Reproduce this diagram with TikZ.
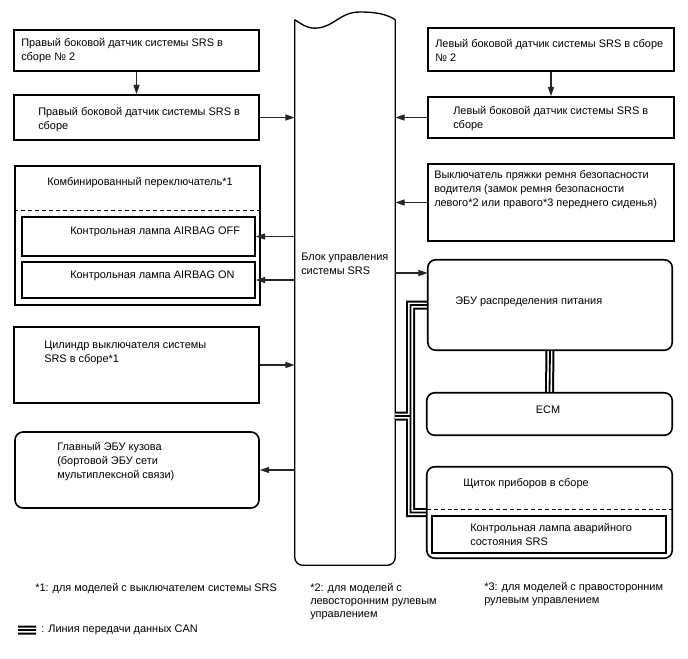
\documentclass[tikz,border=0pt]{standalone}
\usepackage{fontspec}
\setmainfont{Liberation Sans}
\usetikzlibrary{fit,arrows.meta,calc}
\begin{document}
\begin{tikzpicture}[x=0.75pt,y=-0.75pt,
  box/.style={draw, line width=1.2pt, inner sep=0pt},
  rbox/.style={box, rounded corners=6pt},
  txt/.style={anchor=north west, inner sep=0pt, align=left, font=\fontsize{8.2}{10.5}\selectfont},
  ntxt/.style={txt, font=\fontsize{8.2}{9.75}\selectfont},
  arr/.style={draw=black!85, line width=0.8pt, -{Triangle[length=7pt,width=4.5pt]}},
  dashline/.style={line width=0.9pt, dash pattern=on 3pt off 2.2pt}
]
\fill[white] (0,0) rectangle (688,658);
\useasboundingbox (0,0) rectangle (688,658);

% central block
\node[inner sep=0pt, fit={(295,20) (395,565)}] (srs) {};
\draw[line width=1pt] (srs.north west) .. controls (303,25) and (308,29) .. (318,28)
  .. controls (335,26) and (340,12) .. (360,12) .. controls (378,12) and (388,15) .. (srs.north east);
\draw[line width=1pt, rounded corners=6pt] (srs.north west) -- (srs.south west) -- (srs.south east) -- (srs.north east);
\node[txt] (tsrs) at (301,252.5) {Блок управления\\системы SRS};

% right boxes (rounded) needed for CAN
\node[inner sep=0pt, fit={(428,260) (672,350)}] (pdu) {};
\node[inner sep=0pt, fit={(427,393) (672,435)}] (ecm) {};
\node[inner sep=0pt, fit={(427,467) (672,558)}] (ic) {};
\coordinate (canx) at (410.5,0);
\coordinate (cb) at (395,416);
\coordinate (lg1) at (18,630);
\coordinate (lg2) at (36,630);

% CAN lines
\foreach \lw/\lc in {6.75pt/black, 3.75pt/white, 1.35pt/black} {
  \draw[line width=\lw, draw=\lc] (pdu.west) -| (canx |- ic.west) -- (ic.west)
     (cb) -- (cb -| canx)
     (pdu.south) -- (ecm.north)
     (lg1) -- (lg2);
}

% left side
\node[box, fit={(14,30) (259,71)}] (rs2) {};
\node[txt] (trs2) at (21,38) {Правый боковой датчик системы SRS в\\сборе № 2};
\node[box, fit={(14,95) (259,140)}] (rs) {};
\node[txt] (trs) at (38,107.5) {Правый боковой датчик системы SRS в\\сборе};

\node[box, fit={(15,166) (260,305)}] (comb) {};
\node[txt] (tcomb) at (47,177.5) {Комбинированный переключатель*1};
\draw[dashline] ($(comb.north west)+(0,45)$) -- ($(comb.north east)+(0,45)$);
\node[box, fit={(22,217) (255,256)}] (off) {};
\node[txt] (toff) at (70,226.5) {Контрольная лампа AIRBAG OFF};
\node[box, fit={(22,262) (255,298)}] (on) {};
\node[txt] (ton) at (70,270.5) {Контрольная лампа AIRBAG ON};

\node[box, fit={(14,327) (259,403)}] (cyl) {};
\node[txt] (tcyl) at (44,340.5) {Цилиндр выключателя системы\\SRS в сборе*1};

\node[rbox, fit={(15,432) (259,508)}] (body) {};
\node[txt] (tbody) at (57,442.5) {Главный ЭБУ кузова\\(бортовой ЭБУ сети\\мультиплексной связи)};

% right side
\node[box, fit={(428,28) (674,71)}] (ls2) {};
\node[txt] (tls2) at (435,39.5) {Левый боковой датчик системы SRS в сборе\\№ 2};
\node[box, fit={(428,97) (674,138)}] (ls) {};
\node[txt] (tls) at (453,106.5) {Левый боковой датчик системы SRS в\\сборе};
\node[box, fit={(428,164) (674,241)}] (belt) {};
\node[txt] (tbelt) at (434,170.5) {Выключатель пряжки ремня безопасности\\водителя (замок ремня безопасности\\левого*2 или правого*3 переднего сиденья)};

\draw[line width=1.2pt, rounded corners=6pt] (pdu.north west) rectangle (pdu.south east);
\node[txt] (tpdu) at (455,296.5) {ЭБУ распределения питания};
\draw[line width=1.2pt, rounded corners=6pt] (ecm.north west) rectangle (ecm.south east);
\node[txt, anchor=center] (tecm) at (548,410) {ECM};
\draw[line width=1.2pt, rounded corners=6pt] (ic.north west) rectangle (ic.south east);
\node[txt] (tic) at (463,478.5) {Щиток приборов в сборе};
\draw[dashline] ($(ic.north west)+(0,43)$) -- ($(ic.north east)+(0,43)$);
\node[box, fit={(432,516) (666,553)}] (mil) {};
\node[txt] (tmil) at (470,523.5) {Контрольная лампа аварийного\\состояния SRS};

% arrows
\coordinate (sp) at (395,273);
\draw[arr] (rs2.south) -- (rs.north);
\draw[arr] (rs.east) -- (rs.east -| srs.west);
\draw[arr] (ls2.south) -- (ls.north);
\draw[arr] (ls.west) -- (ls.west -| srs.east);
\draw[arr] (belt.west) -- (belt.west -| srs.east);
\draw[arr] (off.east -| srs.west) -- (off.east);
\draw[arr] (on.east -| srs.west) -- (on.east);
\draw[arr] (cyl.east) -- (cyl.east -| srs.west);
\draw[arr] (body.east -| srs.west) -- (body.east);
\draw[arr] (sp) -- (sp -| pdu.west);

% notes
\node[ntxt] (f1) at (35,583.5) {*1: для моделей с выключателем системы SRS};
\node[ntxt] (f2) at (310,583.5) {*2: для моделей с\\левосторонним рулевым\\управлением};
\node[ntxt] (f3) at (484,582) {*3: для моделей с правосторонним\\рулевым управлением};
\node[txt, anchor=west] (tleg) at (41,630) {: Линия передачи данных CAN};
\end{tikzpicture}
\end{document}
